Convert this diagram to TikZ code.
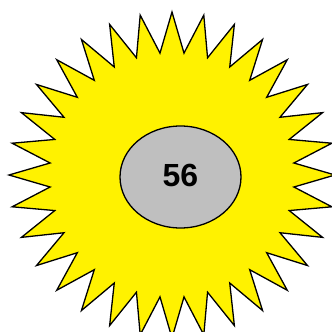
\documentclass[tikz,border=0pt]{standalone}
\usepackage{fontspec}
\setmainfont{Liberation Sans}
\usetikzlibrary{shapes.geometric,calc}
\begin{document}
\begin{tikzpicture}[x=1pt,y=-1pt,
  burst/.style={draw=black, fill=yellow, line width=1.3pt, line join=miter},
  core/.style={ellipse, draw=black, fill=gray!50, line width=1.3pt, inner sep=0pt,
    minimum width=121pt, minimum height=102pt, font=\fontsize{32}{32}\selectfont\bfseries}]
\useasboundingbox (0,0) rectangle (332,332);
\clip (0,0) rectangle (332,332);
\coordinate (c) at (172,175);
\path[burst] ($(c)+(90:163)$)
  \foreach \i in {0,...,31} {
    -- ($(c)+({90+\i*11.25+5.625}:122.5)$) -- ($(c)+({90+(\i+1)*11.25}:163)$)
  } -- cycle;
\node[core] (n) at (180.5,177) {\raisebox{2.5pt}{56}};
\end{tikzpicture}
\end{document}
